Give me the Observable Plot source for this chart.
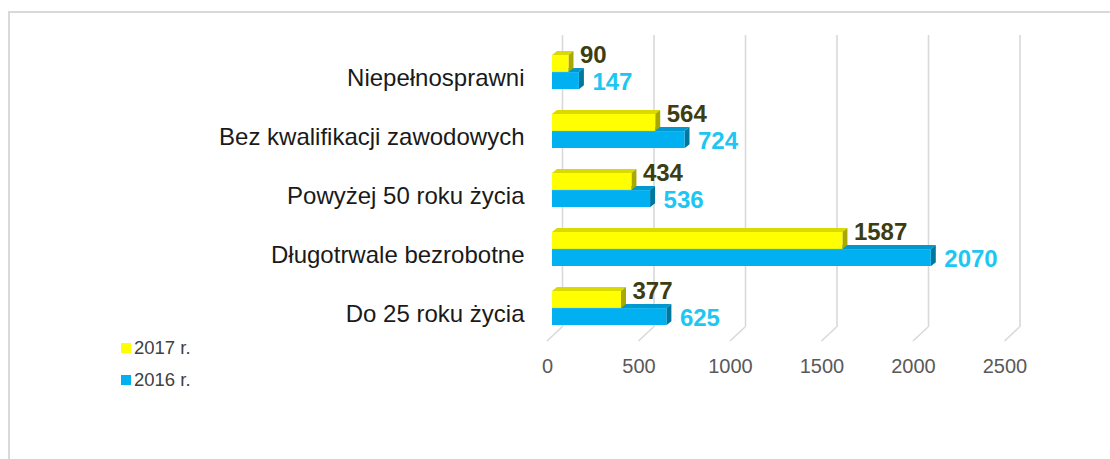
<!DOCTYPE html>
<html>
<head>
<meta charset="utf-8">
<script src="https://cdn.jsdelivr.net/npm/d3@7"></script>
<script src="https://cdn.jsdelivr.net/npm/@observablehq/plot@0.6"></script>
<style>
  html, body { margin: 0; padding: 0; background: #fff; }
  #wrap { position: relative; width: 1110px; height: 459px; overflow: hidden; font-family: "Liberation Sans", Arial, sans-serif; }
  #frame { position: absolute; left: 8px; top: 11px; width: 1200px; height: 500px; border-top: 2px solid #d9d9d9; border-left: 2px solid #d9d9d9; box-sizing: border-box; }
  #chart { position: absolute; left: 0; top: 0; }
  .legend { position: absolute; left: 121px; font-size: 18.5px; color: #404040; display: flex; align-items: center; line-height: 1; }
  .legend .sw { width: 10px; height: 10px; margin-right: 3px; }
</style>
</head>
<body>
<div id="wrap">
  <div id="frame"></div>
  <div id="chart"></div>
  <div id="legend"></div>
</div>
<script>
const categories = ["Niepełnosprawni", "Bez kwalifikacji zawodowych", "Powyżej 50 roku życia", "Długotrwale bezrobotne", "Do 25 roku życia"];
const values2017 = [90, 564, 434, 1587, 377];
const values2016 = [147, 724, 536, 2070, 625];
const seriesNames = ["2017 r.", "2016 r."];
const xTicks = [0, 500, 1000, 1500, 2000, 2500];

const rows2017 = categories.map((c, i) => ({category: c, value: values2017[i], series: seriesNames[0]}));
const rows2016 = categories.map((c, i) => ({category: c, value: values2016[i], series: seriesNames[1]}));

const YELLOW = "#FFFF00", YELLOW_TOP = "#DADA00", YELLOW_SIDE = "#A8A800";
const BLUE = "#00B0F0", BLUE_TOP = "#0098CF", BLUE_SIDE = "#00779F";
const HALF = 17.1;   // half of the band (one bar)
const DX = 5, DY = 4; // 3D depth

function depthFaces(rows, upper, topColor, sideColor) {
  return (index, scales) => {
    const g = d3.create("svg:g");
    for (const r of rows) {
      const y0 = scales.y(r.category) + (upper ? 0 : HALF);
      const y1 = y0 + HALF;
      const x0 = scales.x(0), x1 = scales.x(r.value);
      g.append("path")
        .attr("d", `M${x0},${y0}L${x0 + DX},${y0 - DY}L${x1 + DX},${y0 - DY}L${x1},${y0}Z`)
        .attr("fill", topColor);
      g.append("path")
        .attr("d", `M${x1},${y0}L${x1 + DX},${y0 - DY}L${x1 + DX},${y1 - DY}L${x1},${y1}Z`)
        .attr("fill", sideColor);
    }
    return g.node();
  };
}

function gridFeet(ticks) {
  return (index, scales) => {
    const g = d3.create("svg:g");
    for (const t of ticks) {
      const x = scales.x(t);
      g.append("line")
        .attr("x1", x + 10).attr("y1", 327)
        .attr("x2", x - 5).attr("y2", 341)
        .attr("stroke", "#d9d9d9").attr("stroke-width", 1.6);
    }
    return g.node();
  };
}

const plot = Plot.plot({
  width: 1110,
  height: 459,
  marginLeft: 552,
  marginRight: 100.5,
  marginTop: 30,
  marginBottom: 109,
  style: {fontFamily: "Liberation Sans, Arial, sans-serif", background: "transparent"},
  x: {domain: [0, 2500], axis: null},
  y: {domain: categories, padding: 0.42, axis: null},
  marks: [
    Plot.ruleX(xTicks, {x: d => d, dx: 10, insetTop: 5, insetBottom: 23, stroke: "#d9d9d9", strokeWidth: 1.6}),
    gridFeet(xTicks),
    depthFaces(rows2016, false, BLUE_TOP, BLUE_SIDE),
    Plot.barX(rows2016, {x: "value", y: "category", insetTop: HALF, fill: BLUE}),
    depthFaces(rows2017, true, YELLOW_TOP, YELLOW_SIDE),
    Plot.barX(rows2017, {x: "value", y: "category", insetBottom: HALF, fill: YELLOW}),
    Plot.text(rows2017, {x: "value", y: "category", text: d => String(d.value), textAnchor: "start", dx: 11, dy: -17, fontSize: 24, fontWeight: "bold", fill: "#3d3d14"}),
    Plot.text(rows2016, {x: "value", y: "category", text: d => String(d.value), textAnchor: "start", dx: 13, dy: 9.5, fontSize: 24, fontWeight: "bold", fill: "#1dc6f3"}),
    Plot.axisY({tickSize: 0, tickPadding: 28, dy: 6, fontSize: 24, color: "#1a1a1a", label: null}),
    Plot.axisX(xTicks, {anchor: "bottom", tickSize: 0, tickPadding: 8, dx: -5, fontSize: 20, color: "#595959", label: null, tickFormat: d => String(d)})
  ]
});
document.getElementById("chart").appendChild(plot);

const legend = document.getElementById("legend");
[[seriesNames[0], YELLOW, 339], [seriesNames[1], BLUE, 371]].forEach(([name, color, top]) => {
  const item = document.createElement("div");
  item.className = "legend";
  item.style.top = top + "px";
  item.innerHTML = `<div class="sw" style="background:${color}"></div><span>${name}</span>`;
  legend.appendChild(item);
});
</script>
</body>
</html>
